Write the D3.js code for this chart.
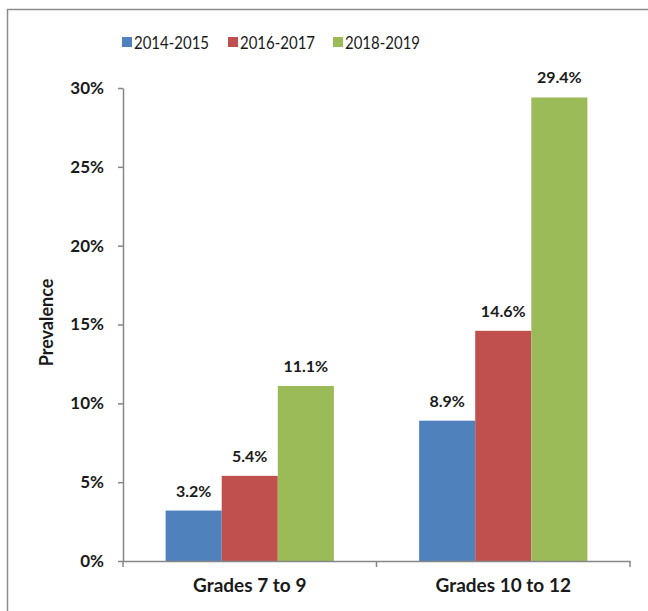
<!DOCTYPE html>
<html lang="en">
<head>
<meta charset="utf-8">
<title>Prevalence by grade</title>
<style>
body { margin: 0; background: #fff; }
* { font-family: "Lato", "Open Sans", sans-serif; }
.axis path, .axis line { stroke: #868686; }
</style>
<script src="https://cdn.jsdelivr.net/npm/d3@7"></script>
</head>
<body>
<div id="chart"></div>
<script>
// Chart data
var categories = ["Grades 7 to 9", "Grades 10 to 12"];
var periods = ["2014-2015", "2016-2017", "2018-2019"];
var colors = ["#4F81BD", "#C0504D", "#9BBB59"];
var values = {
    "2014-2015": [0.032, 0.089],
    "2016-2017": [0.054, 0.146],
    "2018-2019": [0.111, 0.294]
};
var yTicks = [0, 0.05, 0.10, 0.15, 0.20, 0.25, 0.30];

var width = 648, height = 611;
var plotLeft = 123, plotRight = 630, plotTop = 88, plotBottom = 561;

var svg = d3.select("#chart").append("svg")
    .attr("width", width)
    .attr("height", height);

// outer frame (only top and left edges fall inside the picture)
svg.append("rect")
    .attr("x", 7.5).attr("y", 9.5)
    .attr("width", 800).attr("height", 800)
    .attr("fill", "none")
    .attr("stroke", "#8c8c8c")
    .attr("stroke-width", 1.5);

var y = d3.scaleLinear().domain([0, 0.30]).range([plotBottom, plotTop]);
var x0 = d3.scaleBand().domain(categories).range([plotLeft, plotRight]);
var x1 = d3.scaleBand().domain(periods).range([0, x0.bandwidth()]).paddingOuter(0.76);

// y axis
var yAxis = svg.append("g")
    .attr("class", "axis")
    .attr("transform", "translate(" + plotLeft + ",0)")
    .call(d3.axisLeft(y).tickValues(yTicks).tickSize(5).tickSizeOuter(0)
        .tickFormat(function(d) { return Math.round(d * 100) + "%"; }));
yAxis.select(".domain").attr("stroke-width", 1.5);
yAxis.selectAll(".tick line").attr("stroke-width", 1.5);
yAxis.selectAll("text")
    .attr("x", -19)
    .attr("fill", "#1a1a1a")
    .style("font-size", "17px")
    .style("font-weight", "bold");

// bars
var rows = [];
periods.forEach(function(p, j) {
    categories.forEach(function(c, i) {
        rows.push({ cat: c, period: p, color: colors[j], value: values[p][i] });
    });
});

svg.selectAll("rect.bar")
    .data(rows)
    .enter()
    .append("rect")
        .attr("class", "bar")
        .attr("x", function(d) { return x0(d.cat) + x1(d.period); })
        .attr("y", function(d) { return y(d.value); })
        .attr("width", x1.bandwidth())
        .attr("height", function(d) { return y(0) - y(d.value); })
        .attr("fill", function(d) { return d.color; });

svg.selectAll("text.val")
    .data(rows)
    .enter()
    .append("text")
        .attr("class", "val")
        .attr("x", function(d) { return x0(d.cat) + x1(d.period) + x1.bandwidth() / 2; })
        .attr("y", function(d) { return y(d.value) - 14; })
        .attr("text-anchor", "middle")
        .attr("fill", "#1a1a1a")
        .style("font-size", "16px")
        .style("font-weight", "bold")
        .text(function(d) { return (d.value * 100).toFixed(1) + "%"; });

// x axis
var xAxis = svg.append("g")
    .attr("class", "axis")
    .attr("transform", "translate(0," + plotBottom + ")")
    .call(d3.axisBottom(x0).tickSize(0).tickSizeOuter(0).tickPadding(18));
xAxis.select(".domain").attr("stroke-width", 1.5);
xAxis.selectAll("text")
    .attr("fill", "#1a1a1a")
    .style("font-size", "19px")
    .style("font-weight", "bold");
var bounds = categories.map(function(c) { return x0(c); }).concat([x0.range()[1]]);
xAxis.selectAll("line.sep")
    .data(bounds)
    .enter()
    .append("line")
        .attr("class", "sep")
        .attr("x1", function(d) { return d; })
        .attr("x2", function(d) { return d; })
        .attr("y1", 0).attr("y2", 6)
        .attr("stroke-width", 1.5);

// y axis title
svg.append("text")
    .attr("transform", "translate(53," + ((plotTop + plotBottom) / 2 - 2) + ") rotate(-90)")
    .attr("text-anchor", "middle")
    .attr("fill", "#1a1a1a")
    .style("font-size", "18px")
    .style("font-weight", "bold")
    .text("Prevalence");

// legend
var legendX = [122, 228, 333];
var legend = svg.selectAll("g.legend")
    .data(periods)
    .enter()
    .append("g")
        .attr("class", "legend")
        .attr("transform", function(d, i) { return "translate(" + legendX[i] + ",37)"; });
legend.append("rect")
    .attr("width", 10).attr("height", 10)
    .attr("fill", function(d, i) { return colors[i]; });
legend.append("text")
    .attr("x", 12).attr("y", 12)
    .attr("fill", "#1a1a1a")
    .style("font-size", "18px")
    .attr("textLength", 75)
    .attr("lengthAdjust", "spacingAndGlyphs")
    .text(function(d) { return d; });
</script>
</body>
</html>
